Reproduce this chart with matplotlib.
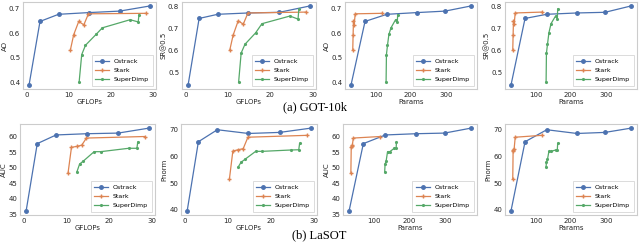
import matplotlib
matplotlib.use("Agg")
import matplotlib.pyplot as plt

# model sizes (same models in every panel)
ost_gflops = [0.6, 3.2, 7.6, 14.8, 22.1, 29.3]
stark_gflops = [10.4, 11.2, 12.4, 13.6, 14.7, 28.4]
dimp_gflops = [12.5, 13.1, 14.0, 16.5, 18.0, 24.6, 26.5, 26.7]

ost_params = [30, 70, 132, 218, 298, 372]
stark_params = [35, 36, 37, 39, 42, 118]
dimp_params = [130, 131, 134, 138, 144, 157, 162, 163]

# GOT-10k
ost_ao = [0.389, 0.648, 0.677, 0.684, 0.690, 0.711]
stark_ao = [0.531, 0.594, 0.648, 0.634, 0.679, 0.681]
dimp_ao = [0.403, 0.513, 0.551, 0.595, 0.622, 0.655, 0.646, 0.675]

ost_sr = [0.442, 0.746, 0.765, 0.771, 0.774, 0.803]
stark_sr = [0.600, 0.669, 0.735, 0.720, 0.771, 0.775]
dimp_sr = [0.454, 0.588, 0.628, 0.680, 0.722, 0.757, 0.743, 0.789]

# LaSOT
ost_auc = [36.1, 57.8, 60.6, 61.0, 61.2, 62.8]
stark_auc = [48.3, 56.6, 56.9, 57.3, 59.6, 60.1]
dimp_auc = [48.8, 51.2, 52.2, 55.2, 55.2, 56.3, 56.3, 58.3]

ost_pn = [39.6, 65.5, 70.0, 68.6, 69.0, 70.6]
stark_pn = [51.5, 62.0, 62.5, 62.9, 67.2, 67.9]
dimp_pn = [56.2, 57.8, 58.9, 61.9, 61.9, 62.4, 62.5, 64.9]

colors = ['#4c72b0', '#dd8452', '#55a868']
names = ['Ostrack', 'Stark', 'SuperDimp']
markers = ['o', '+', '.']

W, H = 640, 245
fig = plt.figure(figsize=(6.4, 2.45), dpi=100)


def make_ax(x0, x1, ytop, ybot):
    return fig.add_axes([x0 / W, 1 - ybot / H, (x1 - x0) / W, (ybot - ytop) / H])


def panel(ax, xs, ys, xlabel, ylabel):
    for x, y, c, n, m in zip(xs, ys, colors, names, markers):
        ax.plot(x, y, color=c, marker=m, ms=2.5, lw=0.9, label=n)
    ax.set_xlabel(xlabel, fontsize=5, labelpad=1, color='#262626')
    ax.set_ylabel(ylabel, fontsize=5, labelpad=1, color='#262626')
    ax.tick_params(labelsize=5, length=0, pad=2, colors='#262626')
    for s in ax.spines.values():
        s.set_color('#cccccc')
        s.set_linewidth(0.8)
    leg = ax.legend(loc='lower right', fontsize=4.5, handlelength=2.2,
                    borderpad=0.6, labelspacing=0.6, fancybox=False)
    leg.get_frame().set_edgecolor('#cccccc')
    leg.get_frame().set_linewidth(0.6)


top = [(23, 156), (182, 316), (345, 477), (505, 637)]
bot = [(20, 155), (181, 317), (343, 477), (505, 637)]

g = [ost_gflops, stark_gflops, dimp_gflops]
p = [ost_params, stark_params, dimp_params]

panel(make_ax(*top[0], 2, 89), g, [ost_ao, stark_ao, dimp_ao], 'GFLOPs', 'AO')
panel(make_ax(*top[1], 2, 89), g, [ost_sr, stark_sr, dimp_sr], 'GFLOPs', 'SR@0.5')
panel(make_ax(*top[2], 2, 89), p, [ost_ao, stark_ao, dimp_ao], 'Params', 'AO')
panel(make_ax(*top[3], 2, 89), p, [ost_sr, stark_sr, dimp_sr], 'Params', 'SR@0.5')

panel(make_ax(*bot[0], 124, 215), g, [ost_auc, stark_auc, dimp_auc], 'GFLOPs', 'AUC')
panel(make_ax(*bot[1], 124, 215), g, [ost_pn, stark_pn, dimp_pn], 'GFLOPs', 'Pnorm')
panel(make_ax(*bot[2], 124, 215), p, [ost_auc, stark_auc, dimp_auc], 'Params', 'AUC')
panel(make_ax(*bot[3], 124, 215), p, [ost_pn, stark_pn, dimp_pn], 'Params', 'Pnorm')

fig.text(0.492, 1 - 107 / H, '(a) GOT-10k', ha='center', va='center',
         fontsize=9, family='Liberation Serif')
fig.text(0.498, 1 - 235 / H, '(b) LaSOT', ha='center', va='center',
         fontsize=9, family='Liberation Serif')

fig.savefig('out.png', dpi=100)
